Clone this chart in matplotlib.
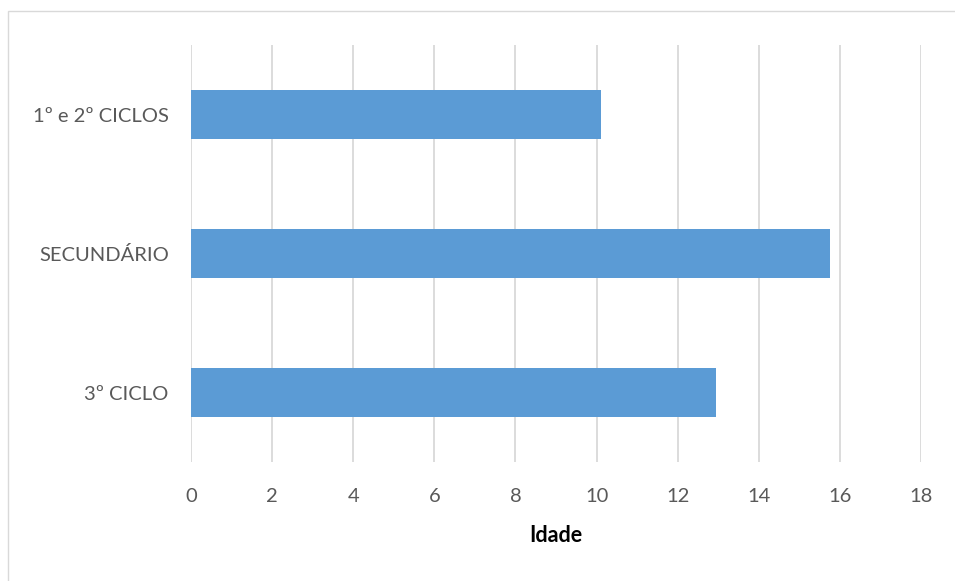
import matplotlib.pyplot as plt
from matplotlib.patches import Rectangle

# data (bottom to top)
niveis = ["3º CICLO", "SECUNDÁRIO", "1º e 2º CICLOS"]
idades = [12.94, 15.76, 10.11]
ticks_x = [0, 2, 4, 6, 8, 10, 12, 14, 16, 18]

plt.rcParams['font.family'] = ['Lato', 'DejaVu Sans']

fig = plt.figure(figsize=(9.55, 5.81), dpi=100)
W, H = 955, 581
ax = fig.add_axes([191 / W, 1 - 462 / H, 730 / W, 417 / H])

# outer chart border
fig.patches.append(Rectangle((8 / W, -0.01), 1.0, 1 - 11 / H + 0.01,
                             transform=fig.transFigure, fill=False,
                             edgecolor='#D9D9D9', linewidth=1))

ax.barh(range(len(niveis)), idades, height=0.35, color='#5B9BD5', zorder=3)

ax.set_xlim(0, 18)
ax.set_ylim(-0.5, 2.5)
ax.set_xticks(ticks_x)
ax.set_yticks(range(len(niveis)))
ax.set_yticklabels(niveis)
ax.grid(axis='x', color='#D9D9D9', linewidth=1.3, zorder=0)
for s in ax.spines.values():
    s.set_visible(False)
ax.tick_params(axis='both', length=0, labelsize=14.5, colors='#595959')
ax.tick_params(axis='x', pad=19)
ax.tick_params(axis='y', pad=16)
ax.set_xlabel("Idade", fontsize=15.5, fontweight='bold', color='black', labelpad=14)

fig.savefig("out.png", dpi=100)
